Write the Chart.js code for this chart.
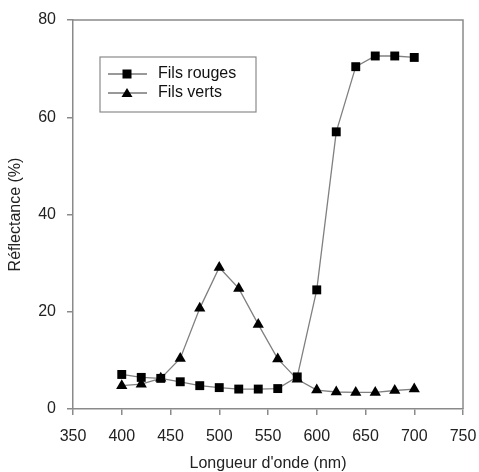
<!DOCTYPE html>
<html>
<head>
<meta charset="utf-8">
<script src="https://cdn.jsdelivr.net/npm/chart.js@4"></script>
<style>
  html, body { margin: 0; padding: 0; background: #fff; }
  #wrap { width: 479px; height: 472px; }
</style>
</head>
<body>
<div id="wrap"><canvas id="chart" width="479" height="472"></canvas></div>
<script>
// Longueurs d'onde (nm)
const wavelengths = [400, 420, 440, 460, 480, 500, 520, 540, 560, 580, 600, 620, 640, 660, 680, 700];
// Réflectance (%)
const filsRouges = [7.1, 6.5, 6.3, 5.6, 4.8, 4.4, 4.1, 4.1, 4.2, 6.6, 24.5, 57.0, 70.4, 72.6, 72.6, 72.3];
const filsVerts  = [4.8, 5.1, 6.3, 10.4, 20.7, 29.1, 24.8, 17.4, 10.3, 6.1, 3.9, 3.5, 3.4, 3.4, 3.8, 4.1];
const seriesLabels = ['Fils rouges', 'Fils verts'];
const xTicks = [350, 400, 450, 500, 550, 600, 650, 700, 750];
const yTicks = [0, 20, 40, 60, 80];

const FONT = "Arial, 'Liberation Sans', sans-serif";
const AXIS_GREY = '#8a8a8a';

function toPoints(values) {
    return wavelengths.map((w, i) => ({ x: w, y: values[i] }));
}

// Cadre haut / droite + légende encadrée
const framePlugin = {
    id: 'frame',
    afterDraw(chart) {
        const { ctx, chartArea: a } = chart;
        ctx.save();
        ctx.strokeStyle = AXIS_GREY;
        ctx.lineWidth = 1.5;
        ctx.beginPath();
        ctx.moveTo(a.left, a.top);
        ctx.lineTo(a.right, a.top);
        ctx.lineTo(a.right, a.bottom);
        ctx.stroke();

        // légende
        const box = { x: 100, y: 57, w: 156, h: 55 };
        ctx.lineWidth = 1.2;
        ctx.strokeRect(box.x, box.y, box.w, box.h);
        const rows = [74, 93];
        chart.data.datasets.forEach((ds, i) => {
            const y = rows[i];
            ctx.strokeStyle = '#333';
            ctx.lineWidth = 1;
            ctx.beginPath();
            ctx.moveTo(108, y);
            ctx.lineTo(147, y);
            ctx.stroke();
            ctx.fillStyle = '#000';
            if (ds.pointStyle === 'rect') {
                ctx.fillRect(127 - 4.5, y - 4.5, 9, 9);
            } else {
                ctx.beginPath();
                ctx.moveTo(127, y - 5);
                ctx.lineTo(132.5, y + 4);
                ctx.lineTo(121.5, y + 4);
                ctx.closePath();
                ctx.fill();
            }
            ctx.fillStyle = '#111';
            ctx.font = '16px ' + FONT;
            ctx.textBaseline = 'middle';
            ctx.textAlign = 'left';
            ctx.fillText(ds.label, 158, y);
        });
        ctx.restore();
    }
};

new Chart(document.getElementById('chart'), {
    type: 'line',
    data: {
        datasets: [
            {
                label: seriesLabels[0],
                data: toPoints(filsRouges),
                borderColor: '#808080',
                borderWidth: 1.3,
                pointStyle: 'rect',
                pointRadius: 6.3,
                pointBackgroundColor: '#000',
                pointBorderColor: '#000',
                pointBorderWidth: 0,
                tension: 0
            },
            {
                label: seriesLabels[1],
                data: toPoints(filsVerts),
                borderColor: '#808080',
                borderWidth: 1.3,
                pointStyle: 'triangle',
                pointRadius: 6.5,
                pointBackgroundColor: '#000',
                pointBorderColor: '#000',
                pointBorderWidth: 0,
                tension: 0
            }
        ]
    },
    options: {
        responsive: false,
        animation: false,
        layout: { padding: { top: 20, right: 16, left: 0, bottom: 0 } },
        plugins: {
            legend: { display: false },
            tooltip: { enabled: false }
        },
        scales: {
            x: {
                type: 'linear',
                min: 350,
                max: 750,
                afterBuildTicks: s => { s.ticks = xTicks.map(v => ({ value: v })); },
                afterFit: s => { s.height = 63; s.paddingLeft = 0; s.paddingRight = 0; },
                border: { color: AXIS_GREY, width: 1.5 },
                grid: { drawOnChartArea: false, color: AXIS_GREY, tickLength: 6, lineWidth: 1.5 },
                ticks: { color: '#222', font: { family: FONT, size: 16 }, padding: 12, maxRotation: 0 },
                title: { display: true, text: "Longueur d'onde (nm)", color: '#222', font: { family: FONT, size: 16, lineHeight: 1 }, padding: { top: 14, bottom: 0 } }
            },
            y: {
                min: 0,
                max: 80,
                afterBuildTicks: s => { s.ticks = yTicks.map(v => ({ value: v })); },
                afterFit: s => { s.width = 73; s.paddingTop = 0; s.paddingBottom = 0; },
                border: { color: AXIS_GREY, width: 1.5 },
                grid: { drawOnChartArea: false, color: AXIS_GREY, tickLength: 6, lineWidth: 1.5 },
                ticks: { color: '#222', font: { family: FONT, size: 16 }, padding: 11 },
                title: { display: true, text: 'Réflectance (%)', color: '#222', font: { family: FONT, size: 16 }, padding: { top: 6, bottom: 6 } }
            }
        }
    },
    plugins: [framePlugin]
});
</script>
</body>
</html>
